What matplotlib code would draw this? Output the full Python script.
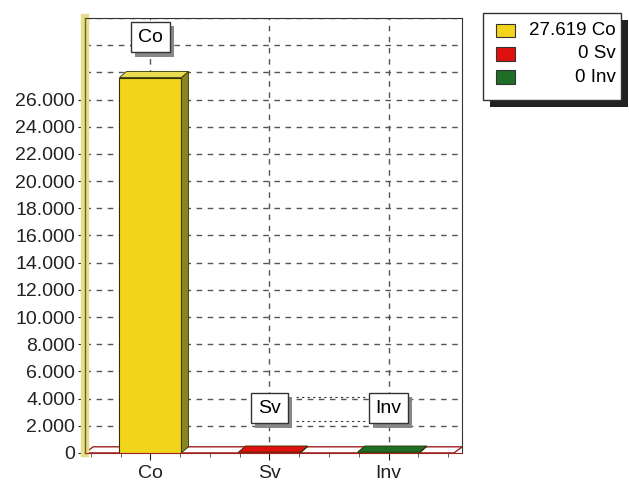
import matplotlib
matplotlib.use("Agg")
import matplotlib.pyplot as plt
import matplotlib.patheffects as pe
from matplotlib.patches import Polygon, Rectangle
from matplotlib.ticker import FuncFormatter, MultipleLocator

categories = ["Co", "Sv", "Inv"]
values = [27619, 0, 0]
face_colors = ["#f2d41a", "#e01010", "#1f6e28"]
side_colors = ["#8a8420", "#8a1010", "#12401a"]
y_ticks = list(range(0, 28000, 2000))

plt.rcParams['font.family'] = ['Liberation Sans', 'DejaVu Sans']

fig = plt.figure(figsize=(6.29, 4.87), dpi=100)
ax = fig.add_axes([0.135, 0.07, 0.60, 0.893])
ax.set_xlim(-0.55, 2.62)
ax.set_ylim(0, 32000)

# grid
for y in range(2000, 32001, 2000):
    ax.axhline(y, color="#555555", lw=1, ls=(0, (4, 4)), zorder=0)
for i in range(len(categories)):
    ax.axvline(i, color="#555555", lw=1, ls=(0, (4, 4)), zorder=0)

# 3d floor
dx, dy = 0.06, 450
floor = Polygon([(-0.55, 0), (2.55, 0), (2.62, dy), (-0.48, dy)],
                closed=True, fc="white", ec="#a02020", lw=1, zorder=1)
ax.add_patch(floor)

w = 0.52
for i, v in enumerate(values):
    x0 = i - w / 2
    h = max(v, 60)
    ax.add_patch(Rectangle((x0, 0), w, h, fc=face_colors[i], ec="#333300" if i == 0 else face_colors[i],
                           lw=0.8, zorder=3))
    ax.add_patch(Polygon([(x0 + w, 0), (x0 + w + dx, dy), (x0 + w + dx, h + dy), (x0 + w, h)],
                         closed=True, fc=side_colors[i], ec="#333300", lw=0.6, zorder=3))
    ax.add_patch(Polygon([(x0, h), (x0 + dx, h + dy), (x0 + w + dx, h + dy), (x0 + w, h)],
                         closed=True, fc="#e8dc50" if i == 0 else face_colors[i], ec="#333300", lw=0.6, zorder=3))

# labels in boxes, with a grey drop shadow
def boxed(x, y, s):
    t = ax.text(x, y, s, ha="center", va="center", fontsize=14,
                bbox=dict(boxstyle="square,pad=0.35", fc="white", ec="#333333", lw=1), zorder=6)
    t.get_bbox_patch().set_path_effects([
        pe.SimplePatchShadow(offset=(3, -3), shadow_rgbFace="#888888", alpha=1), pe.Normal()])

boxed(0, 30600, "Co")
boxed(1, 3300, "Sv")
boxed(2, 3300, "Inv")
ax.plot([1.22, 1.82], [4150, 4150], color="#333333", lw=0.8, ls=(0, (2, 3)), zorder=4)
ax.plot([1.22, 1.82], [2370, 2370], color="#333333", lw=0.8, ls=(0, (2, 3)), zorder=4)

ax.set_yticks(y_ticks)
ax.yaxis.set_minor_locator(MultipleLocator(500))
ax.xaxis.set_minor_locator(MultipleLocator(0.25))
ax.yaxis.set_major_formatter(FuncFormatter(lambda v, p: f"{int(v):,}".replace(",", ".")))
ax.set_xticks(range(len(categories)))
ax.set_xticklabels(categories)
ax.tick_params(axis="both", labelsize=14, length=5, colors="#222222")
ax.tick_params(axis="y", pad=2)
ax.tick_params(which="minor", length=3, colors="#444444")

for s in ["top", "right"]:
    ax.spines[s].set_color("#333333")
ax.spines["left"].set_color("#e6de8a")
ax.spines["left"].set_linewidth(6)
ax.spines["bottom"].set_color("#a02020")
ax.plot([0, 0], [0, 1], transform=ax.transAxes, color="#6b6420", lw=1, clip_on=False, zorder=7)

# legend: frame patch with a dark drop shadow
lax = fig.add_axes([0.768, 0.795, 0.22, 0.178])
lax.set_xlim(0, 1)
lax.set_ylim(0, 1)
lax.axis("off")
frame = Rectangle((0, 0), 1, 1, transform=lax.transAxes, fc="white", ec="#333333",
                  lw=1, clip_on=False, zorder=0)
frame.set_path_effects([pe.SimplePatchShadow(offset=(5, -5), shadow_rgbFace="#222222", alpha=1),
                        pe.Normal()])
lax.add_patch(frame)
leg_labels = [f"{v/1000:.3f} {c}" if v else f"0 {c}" for v, c in zip(values, categories)]
for k, (lab, col) in enumerate(zip(leg_labels, face_colors)):
    yy = 0.8 - k * 0.27
    lax.add_patch(Rectangle((0.09, yy - 0.08), 0.14, 0.16, fc=col, ec="#333333", lw=0.8, zorder=2))
    lax.text(0.96, yy, lab, ha="right", va="center", fontsize=13.5, zorder=3)

fig.savefig("out.png", dpi=100)
